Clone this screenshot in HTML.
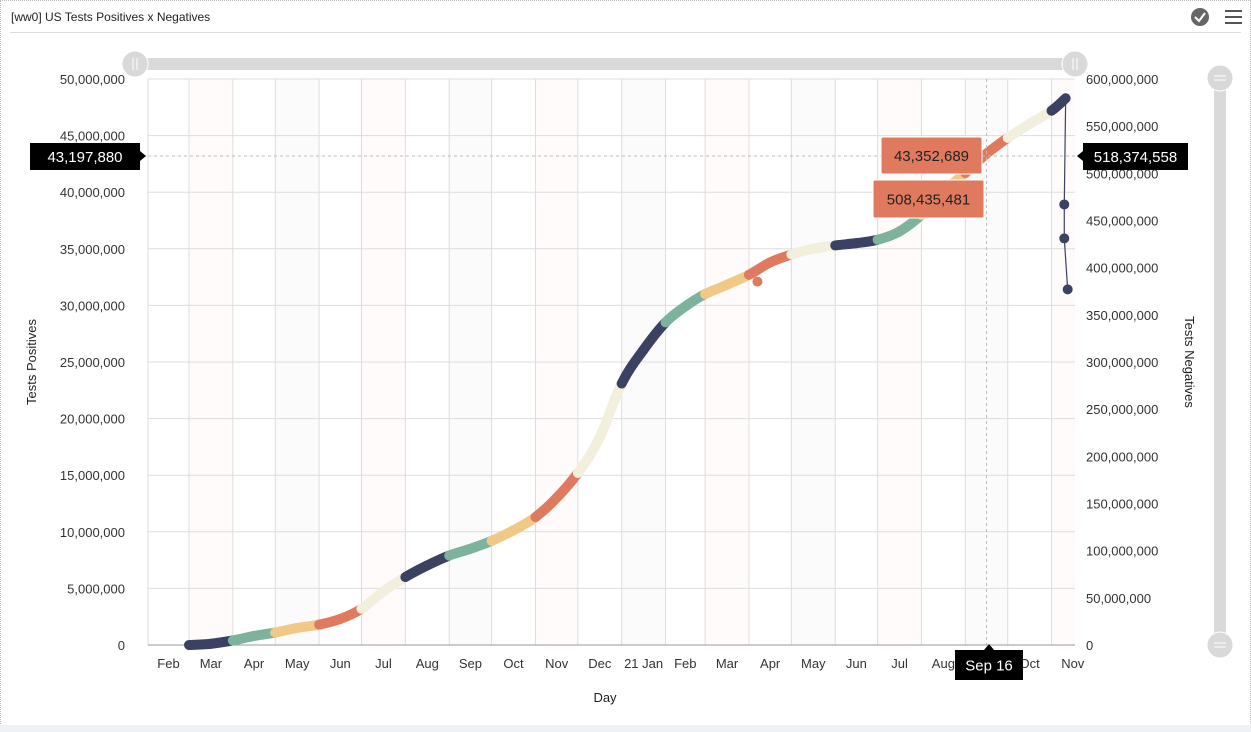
<!DOCTYPE html>
<html><head><meta charset="utf-8"><style>
body{margin:0;width:1251px;height:732px;background:#fff;font-family:"Liberation Sans",sans-serif;overflow:hidden;position:relative}
#frame{position:absolute;left:0;top:0;width:1249px;height:724px;border:1px dotted #bbb}
#title{position:absolute;left:11px;top:10px;font-size:12px;color:#222}
#hdrline{position:absolute;left:10px;top:32px;width:1231px;height:1px;background:#ddd}
#foot{position:absolute;left:0;top:725px;width:1251px;height:7px;background:#eef1f5}
</style></head><body>
<div id="frame"></div>
<div id="title">[ww0] US Tests Positives x Negatives</div>
<div id="hdrline"></div>
<div id="foot"></div>
<svg width="1251" height="732" style="position:absolute;left:0;top:0" id="chart">
<g id="grid"></g>
<g id="series"></g>
<g id="overlay"></g>
</svg>
<script>
const months=["Feb","Mar","Apr","May","Jun","Jul","Aug","Sep","Oct","Nov","Dec","21 Jan","Feb","Mar","Apr","May","Jun","Jul","Aug","Sep","Oct","Nov"];
const leftTicks=[0,5e6,10e6,15e6,20e6,25e6,30e6,35e6,40e6,45e6,50e6];
const rightTicks=[0,50e6,100e6,150e6,200e6,250e6,300e6,350e6,400e6,450e6,500e6,550e6,600e6];
const posDates=["2020-03-01","2020-03-16","2020-04-01","2020-04-16","2020-05-01","2020-05-16","2020-06-01","2020-06-16","2020-07-01","2020-07-16","2020-08-01","2020-08-16","2020-09-01","2020-09-16","2020-10-01","2020-10-16","2020-11-01","2020-11-16","2020-12-01","2020-12-16","2021-01-01","2021-01-16","2021-02-01","2021-02-16","2021-03-01","2021-03-16","2021-04-01","2021-04-16","2021-05-01","2021-05-16","2021-06-01","2021-06-16","2021-07-01","2021-07-16","2021-08-01","2021-08-16","2021-09-01","2021-09-16","2021-10-01","2021-10-16","2021-11-01","2021-11-11"];
const posValues=[0,0.1,0.4,0.8,1.1,1.5,1.8,2.3,3.2,4.7,6.0,7.0,7.9,8.5,9.2,10.1,11.3,13.0,15.2,18.2,23.1,26.0,28.5,30.0,31.0,31.8,32.7,33.8,34.5,35.0,35.3,35.5,35.8,36.5,38.0,40.0,41.7,43.4,44.8,46.0,47.2,48.3];
const negDates=["2021-11-11","2021-11-10","2021-11-10","2021-11-11"];
const negValues=[580e6,467e6,431e6,377e6];
const outlierDates=["2021-04-07"];
const outlierValues=[32.1];
const palette=["#3b4163","#7db39c","#f0c987","#e07a5f","#f2efdc"];
const X0=148,X1=1075,Y0=645,Y1=79;
const base=Date.UTC(2020,1,1);
function day(s){const p=s.split("-");return (Date.UTC(+p[0],+p[1]-1,+p[2])-base)/864e5;}
function monthIdx(s){const p=s.split("-");return (+p[0]-2020)*12+(+p[1])-3;}
function x(s){return X0+day(s)*1.414;}
function yl(v){return Y0-(v/50e6)*(Y0-Y1);}
function yr(v){return Y0-(v/600e6)*(Y0-Y1);}
const NS="http://www.w3.org/2000/svg";
function mk(t,a,p,txt){const e=document.createElementNS(NS,t);for(const k in a)e.setAttribute(k,a[k]);if(txt!=null)e.textContent=txt;(p||document.getElementById("chart")).appendChild(e);return e;}
const grid=document.getElementById("grid"),ser=document.getElementById("series"),ov=document.getElementById("overlay");
months.forEach((m,i)=>{
 const d=new Date(Date.UTC(2020,1+i,1)),d2=new Date(Date.UTC(2020,2+i,1));
 const s=d.toISOString().slice(0,10),s2=d2.toISOString().slice(0,10);
 const xa=x(s),xb=Math.min(x(s2),X1);
 if(i%2==1){const r=mk("rect",{x:xa,y:Y1,width:xb-xa,height:Y0-Y1,fill:i%4==1?"#fefbfa":"#fbfbfc"},grid);
 
 }
 const l=mk("line",{x1:xa,x2:xa,y1:Y1,y2:Y0,stroke:"#ddd"},grid);
 
 
 if(m!=="Sep"||i<19){const t=mk("text",{x:(xa+x(s2))/2,y:668,"text-anchor":"middle","font-size":13,fill:"#333"},grid,m);
 
 }
});
leftTicks.forEach(v=>{
 const l=mk("line",{x1:X0,x2:X1,y1:yl(v),y2:yl(v),stroke:v==0?"#999":"#ddd","stroke-width":1},grid);
 
 
 const t=mk("text",{x:125,y:yl(v)+5,"text-anchor":"end","font-size":13,fill:"#333"},grid,v.toLocaleString("en-US"));
 
 
});
rightTicks.forEach(v=>{
 const t=mk("text",{x:1086,y:yr(v)+5,"font-size":13,fill:"#333"},grid,v.toLocaleString("en-US"));
 
 
});
const P=posDates.map((d,i)=>[x(d),yl(posValues[i]*1e6)]);
for(let i=0;i<P.length-1;i++){
 const p0=P[Math.max(i-1,0)],p1=P[i],p2=P[i+1],p3=P[Math.min(i+2,P.length-1)];
 const c1=[p1[0]+(p2[0]-p0[0])/6,p1[1]+(p2[1]-p0[1])/6],c2=[p2[0]-(p3[0]-p1[0])/6,p2[1]-(p3[1]-p1[1])/6];
 const col=palette[monthIdx(posDates[i])%5];
 const pa=mk("path",{d:`M${p1[0]},${p1[1]}C${c1[0]},${c1[1]} ${c2[0]},${c2[1]} ${p2[0]},${p2[1]}`,stroke:col,"stroke-width":10,fill:"none","stroke-linecap":"round"},ser);
 
 
}
outlierDates.forEach((d,i)=>{const c=mk("circle",{cx:x(d),cy:yl(outlierValues[i]*1e6),r:5,fill:"#e07a5f"},ser);
 
 });
const NP=negDates.map((d,i)=>[x(d)+(i==3?2:0),yr(negValues[i])]);
const pl=mk("polyline",{points:NP.map(p=>p.join(",")).join(" "),stroke:"#3b4163","stroke-width":1.2,fill:"none"},ser);


NP.slice(1).forEach(p=>{const c=mk("circle",{cx:p[0],cy:p[1],r:5,fill:"#3b4163"},ser);
 
 });
const cx=x("2021-09-16"),cy=yl(43197880);
let e=mk("line",{x1:cx,x2:cx,y1:Y1,y2:Y0,stroke:"#bbb","stroke-dasharray":"3,3"},ov);
e=mk("line",{x1:X0,x2:X1,y1:cy,y2:cy,stroke:"#bbb","stroke-dasharray":"3,3"},ov);
function label(xx,yy,w,h,txt,bg,fg,name){
 const g=mk("g",{},ov);
 mk("rect",{x:xx,y:yy,width:w,height:h,fill:bg,rx:bg=="#000"?0:2,stroke:bg=="#000"?"none":"#fff"},g);
 mk("text",{x:xx+w/2,y:yy+h/2+5.5,"text-anchor":"middle","font-size":15,fill:fg},g,txt);
}
label(30,143,110,27,"43,197,880","#000","#fff","left-axis-crosshair-label");
mk("path",{d:"M140,151 L146,156 L140,161Z",fill:"#000"},ov);
label(1083,143,105,27,"518,374,558","#000","#fff","right-axis-crosshair-label");
mk("path",{d:"M1083,151 L1077,156 L1083,161Z",fill:"#000"},ov);
label(955,650,68,30,"Sep 16","#000","#fff","x-axis-crosshair-label");
mk("path",{d:"M984,650 L989,644 L994,650Z",fill:"#000"},ov);
label(881,137,101,37,"43,352,689","#e07a5f","#222","positives-tooltip");
label(873,180,111,38,"508,435,481","#e07a5f","#222","negatives-tooltip");
e=mk("text",{x:0,y:0,transform:"translate(36,362) rotate(-90)","text-anchor":"middle","font-size":13,fill:"#222"},ov,"Tests Positives");
e=mk("text",{x:0,y:0,transform:"translate(1185,362) rotate(90)","text-anchor":"middle","font-size":13,fill:"#222"},ov,"Tests Negatives");
e=mk("text",{x:605,y:702,"text-anchor":"middle","font-size":13,fill:"#222"},ov,"Day");
e=mk("rect",{x:135,y:58,width:940,height:12,fill:"#d9d9d9"},ov);
[135,1075].forEach(hx=>{e=mk("circle",{cx:hx,cy:64,r:13,fill:"#d9d9d9",stroke:"#fff","stroke-width":1},ov);
 mk("line",{x1:hx-2,x2:hx-2,y1:58,y2:70,stroke:"#fff"},ov);mk("line",{x1:hx+2,x2:hx+2,y1:58,y2:70,stroke:"#fff"},ov);});
e=mk("rect",{x:1214,y:78,width:12,height:567,fill:"#d9d9d9"},ov);
[78,645].forEach(hy=>{e=mk("circle",{cx:1220,cy:hy,r:13,fill:"#d9d9d9",stroke:"#fff"},ov);
 mk("line",{x1:1214,x2:1226,y1:hy-2,y2:hy-2,stroke:"#fff"},ov);mk("line",{x1:1214,x2:1226,y1:hy+2,y2:hy+2,stroke:"#fff"},ov);});
e=mk("circle",{cx:1200,cy:17,r:9,fill:"#666"},ov);
mk("path",{d:"M1195,17 L1199,21 L1205,13",stroke:"#fff","stroke-width":2,fill:"none"},ov);
e=mk("g",{},ov);
[11,17,23].forEach(yy=>mk("rect",{x:1225,y:yy-1,width:17,height:2,fill:"#555"},e));
</script>
</body></html>
